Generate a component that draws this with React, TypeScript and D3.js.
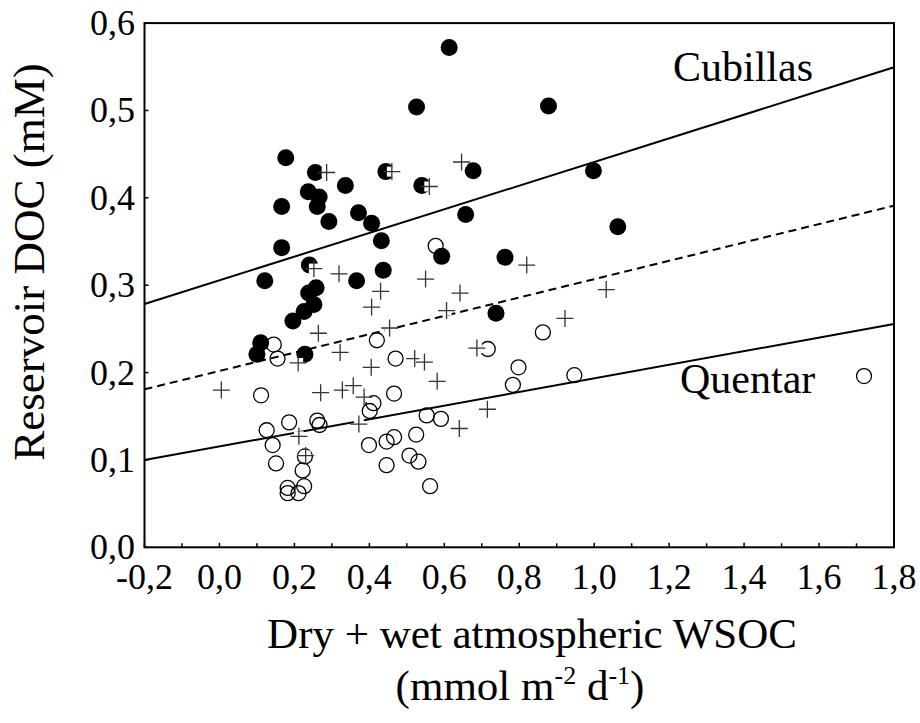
import React, { useEffect } from "react";
import * as d3 from "d3";

// Cubillas reservoir (filled circles)
const cubillas: [number, number][] = [
  [0.177, 0.446], [0.256, 0.429], [0.444, 0.43], [0.336, 0.414], [0.237, 0.407],
  [0.266, 0.401], [0.166, 0.39], [0.261, 0.39], [0.371, 0.383], [0.292, 0.373],
  [0.406, 0.371], [0.166, 0.343], [0.24, 0.323], [0.121, 0.305], [0.258, 0.297],
  [0.432, 0.351], [0.366, 0.305], [0.437, 0.317], [0.238, 0.291], [0.252, 0.278],
  [0.226, 0.27], [0.196, 0.259], [0.11, 0.234], [0.1, 0.221], [0.228, 0.221],
  [0.657, 0.381], [1.063, 0.367], [0.593, 0.333], [0.762, 0.332], [0.738, 0.268],
  [0.613, 0.572], [0.526, 0.504], [0.878, 0.505], [0.54, 0.414], [0.677, 0.431],
  [0.998, 0.431],
];

// Quentar reservoir (open circles)
const quentar: [number, number][] = [
  [0.145, 0.232], [0.155, 0.216], [0.42, 0.237], [0.47, 0.216], [0.111, 0.174],
  [0.466, 0.176], [0.411, 0.165], [0.401, 0.156], [0.186, 0.143], [0.261, 0.145],
  [0.267, 0.14], [0.126, 0.134], [0.142, 0.117], [0.151, 0.096], [0.228, 0.104],
  [0.222, 0.088], [0.226, 0.07], [0.182, 0.068], [0.182, 0.062], [0.211, 0.062],
  [0.399, 0.117], [0.446, 0.121], [0.466, 0.126], [0.525, 0.129], [0.446, 0.094],
  [0.507, 0.105], [0.531, 0.098], [0.553, 0.151], [0.591, 0.147], [0.562, 0.07],
  [0.783, 0.186], [0.947, 0.197], [0.577, 0.345], [0.863, 0.246], [0.716, 0.227],
  [0.798, 0.206], [1.72, 0.196],
];

// other points (crosses)
const crosses: [number, number][] = [
  [0.286, 0.429], [0.46, 0.43], [0.56, 0.413], [0.646, 0.441], [0.252, 0.319],
  [0.319, 0.313], [0.43, 0.293], [0.406, 0.275], [0.454, 0.251], [0.264, 0.245],
  [0.322, 0.223], [0.405, 0.206], [0.21, 0.211], [0.005, 0.18], [0.27, 0.177],
  [0.328, 0.18], [0.357, 0.185], [0.386, 0.172], [0.521, 0.216], [0.372, 0.141],
  [0.212, 0.127], [0.23, 0.105], [0.82, 0.323], [0.55, 0.307], [0.642, 0.291],
  [0.606, 0.271], [1.032, 0.295], [0.922, 0.262], [0.687, 0.228], [0.547, 0.212],
  [0.581, 0.19], [0.715, 0.158], [0.64, 0.136],
];

// regression lines, endpoints at the x range edges
const cubillasFit: [number, number][] = [[-0.2, 0.2785], [1.8, 0.5494]];
const allFit: [number, number][] = [[-0.2, 0.1808], [1.8, 0.391]];
const quentarFit: [number, number][] = [[-0.2, 0.0999], [1.8, 0.2556]];

const xTicks = [-0.2, 0, 0.2, 0.4, 0.6, 0.8, 1.0, 1.2, 1.4, 1.6, 1.8];
const xMinor = d3.range(-0.1, 1.8, 0.2);
const yTicks = [0, 0.1, 0.2, 0.3, 0.4, 0.5, 0.6];

const fmt = (v: number) => v.toFixed(1).replace(".", ",").replace("-0,0", "0,0");

const serif = { fontFamily: "Liberation Serif" };

export default function App() {
  useEffect(() => {
    document.body.style.margin = "0";
  }, []);

  const x = d3.scaleLinear().domain([-0.2, 1.8]).range([144.5, 894]);
  const y = d3.scaleLinear().domain([0, 0.6]).range([547.3, 23.1]);
  const line = d3.line<[number, number]>().x((d) => x(d[0])).y((d) => y(d[1]));

  const [x0, x1] = x.range();
  const [y0, y1] = y.range();

  return (
    <svg width={920} height={723} style={{ display: "block", background: "#fff" }}>
      {/* fit lines */}
      <path d={line(cubillasFit)!} stroke="#000" strokeWidth={2} fill="none" />
      <path d={line(quentarFit)!} stroke="#000" strokeWidth={2} fill="none" />
      <path d={line(allFit)!} stroke="#000" strokeWidth={2} fill="none" strokeDasharray="8,5" />

      {/* open circles */}
      {quentar.map((d, i) => (
        <circle key={"q" + i} cx={x(d[0])} cy={y(d[1])} r={7.5} fill="none" stroke="#000" strokeWidth={1.3} />
      ))}
      {/* filled circles */}
      {cubillas.map((d, i) => (
        <circle key={"c" + i} cx={x(d[0])} cy={y(d[1])} r={8.5} fill="#000" />
      ))}
      {/* crosses */}
      {crosses.map((d, i) => {
        const cx = x(d[0]);
        const cy = y(d[1]);
        return (
          <g key={"p" + i}>
            <rect x={cx - 5} y={cy - 5} width={10} height={10} fill="#fff" />
            <path d={`M${cx - 8.5},${cy}H${cx + 8.5}M${cx},${cy - 8.5}V${cy + 8.5}`} stroke="#333" strokeWidth={1.3} />
          </g>
        );
      })}

      {/* frame */}
      <rect x={x0} y={y1} width={x1 - x0} height={y0 - y1} fill="none" stroke="#000" strokeWidth={2} />

      {/* x ticks */}
      {xTicks.map((t) => (
        <g key={"xt" + t}>
          <line x1={x(t)} x2={x(t)} y1={y0} y2={y0 - 4.5} stroke="#000" strokeWidth={1.5} />
          <text x={x(t)} y={589} textAnchor="middle" fontSize={36} style={serif}>
            {fmt(t)}
          </text>
        </g>
      ))}
      {xMinor.map((t) => (
        <line key={"xm" + t} x1={x(t)} x2={x(t)} y1={y0} y2={y0 - 4} stroke="#000" strokeWidth={1.5} />
      ))}

      {/* y ticks */}
      {yTicks.map((t) => (
        <g key={"yt" + t}>
          <line x1={x0} x2={x0 + 4} y1={y(t)} y2={y(t)} stroke="#000" strokeWidth={1.5} />
          <text x={135} y={y(t) + 12} textAnchor="end" fontSize={36} style={serif}>
            {fmt(t)}
          </text>
        </g>
      ))}

      {/* series labels */}
      <text x={673} y={81} fontSize={42} style={serif}>Cubillas</text>
      <text x={680} y={393} fontSize={42} style={serif}>Quentar</text>

      {/* axis titles */}
      <text transform="translate(44,262) rotate(-90)" textAnchor="middle" fontSize={45} style={serif}>
        Reservoir DOC (mM)
      </text>
      <text x={532} y={648} textAnchor="middle" fontSize={43} style={serif}>
        Dry + wet atmospheric WSOC
      </text>
      <text x={520} y={700} textAnchor="middle" fontSize={43} style={serif}>
        (mmol m<tspan fontSize={26} dy={-16}>-2</tspan>
        <tspan dy={16}> d</tspan>
        <tspan fontSize={26} dy={-16}>-1</tspan>
        <tspan dy={16}>)</tspan>
      </text>
    </svg>
  );
}
